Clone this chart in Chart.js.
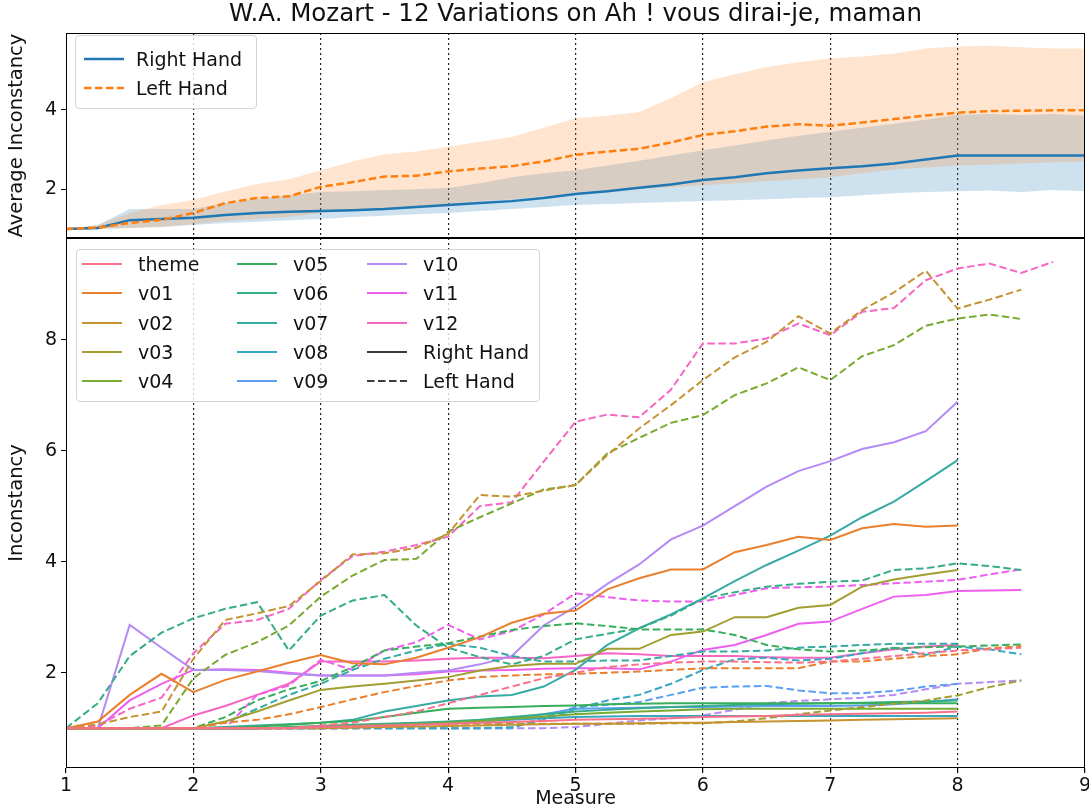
<!DOCTYPE html>
<html>
<head>
<meta charset="utf-8">
<script src="https://cdn.jsdelivr.net/npm/chart.js@4.4.0/dist/chart.umd.min.js"></script>
<style>
  body { margin: 0; background: #fff; font-family: 'DejaVu Sans', sans-serif; }
  #wrap { position: relative; width: 1089px; height: 810px; overflow: hidden; }
  #wrap canvas { position: absolute; left: 0; }
  .legend { position: absolute; border: 1px solid #d3d3d3; border-radius: 4px; background: rgba(255,255,255,0.8); }
  .item { position: absolute; font-size: 19px; color: #111; white-space: nowrap; line-height: 20px; height: 20px; }
  .item svg { position: absolute; top: 0; left: 0; }
</style>
</head>
<body>
<div id="wrap">
  <canvas id="top" width="1089" height="240" style="top:0"></canvas>
  <canvas id="bottom" width="1089" height="572" style="top:238px"></canvas>
</div>
<script>
// x positions (measure), sampled every quarter measure
const measures = [1, 1.25, 1.5, 1.75, 2, 2.25, 2.5, 2.75, 3, 3.25, 3.5, 3.75, 4, 4.25, 4.5, 4.75,
  5, 5.25, 5.5, 5.75, 6, 6.25, 6.5, 6.75, 7, 7.25, 7.5, 7.75, 8, 8.25, 8.5, 8.75, 9];

// top panel: average over variations, with spread band
const avgRight = [1.0, 1.02, 1.22, 1.25, 1.28, 1.35, 1.4, 1.43, 1.45, 1.47, 1.5, 1.55, 1.6, 1.65, 1.7, 1.78,
  1.88, 1.95, 2.04, 2.12, 2.23, 2.3, 2.4, 2.47, 2.53, 2.58, 2.65, 2.75, 2.85, 2.85, 2.85, 2.85, 2.85];
const avgLeft = [1.0, 1.03, 1.15, 1.23, 1.4, 1.65, 1.78, 1.82, 2.06, 2.18, 2.32, 2.34, 2.45, 2.52, 2.58, 2.7,
  2.87, 2.95, 3.02, 3.18, 3.37, 3.46, 3.58, 3.64, 3.6, 3.68, 3.77, 3.86, 3.93, 3.97, 3.98, 3.99, 3.99];
const rightUpper = [1.0, 1.1, 1.5, 1.5, 1.5, 1.65, 1.75, 1.85, 1.93, 1.95, 1.98, 2.0, 2.03, 2.15, 2.3, 2.4,
  2.48, 2.6, 2.72, 2.85, 2.98, 3.1, 3.23, 3.35, 3.45, 3.55, 3.65, 3.75, 3.88, 3.9, 3.87, 3.9, 3.85];
const rightLower = [1.0, 1.0, 1.02, 1.05, 1.1, 1.15, 1.18, 1.22, 1.25, 1.3, 1.33, 1.37, 1.4, 1.45, 1.5, 1.55,
  1.6, 1.63, 1.65, 1.68, 1.7, 1.72, 1.75, 1.78, 1.8, 1.85, 1.9, 1.93, 1.95, 1.97, 1.93, 1.98, 1.95];
const leftUpper = [1.0, 1.1, 1.4, 1.6, 1.73, 1.95, 2.13, 2.25, 2.48, 2.7, 2.88, 2.95, 3.07, 3.2, 3.32, 3.55,
  3.79, 3.85, 3.95, 4.3, 4.7, 4.9, 5.08, 5.2, 5.3, 5.35, 5.42, 5.55, 5.6, 5.62, 5.58, 5.55, 5.55];
const leftLower = [1.0, 1.0, 1.02, 1.05, 1.12, 1.2, 1.25, 1.3, 1.4, 1.45, 1.5, 1.55, 1.6, 1.7, 1.75, 1.82,
  1.9, 1.95, 2.0, 2.05, 2.1, 2.15, 2.2, 2.25, 2.3, 2.4, 2.5, 2.55, 2.6, 2.62, 2.65, 2.68, 2.7];

// bottom panel: one line per variation and hand
const pieces = ['theme', 'v01', 'v02', 'v03', 'v04', 'v05', 'v06', 'v07', 'v08', 'v09', 'v10', 'v11', 'v12'];
const pieceColors = ['#f77189', '#e9802e', '#c59331', '#a39e31', '#79aa31', '#36ae5b', '#35ad8a',
  '#37aaa4', '#39a6c0', '#5b9ff3', '#b48af4', '#ee5ff0', '#f666c4'];

const rightHand = [
  [1,1,1,1,1,1,1,1,1.02,1.03,1.05,1.06,1.08,1.1,1.11,1.13,1.15,1.16,1.17,1.18,1.2,1.21,1.22,1.24,1.25,1.26,1.27,1.28,1.3,null,null,null,null],
  [1.0,1.12,1.6,1.98,1.65,1.87,2.02,2.18,2.32,2.17,2.15,2.27,2.45,2.64,2.9,3.06,3.12,3.5,3.7,3.86,3.86,4.17,4.3,4.45,4.39,4.6,4.68,4.63,4.65,null,null,null,null],
  [1,1,1,1,1,1,1,1,1,1.01,1.02,1.03,1.04,1.05,1.06,1.07,1.08,1.08,1.09,1.1,1.1,1.11,1.12,1.13,1.14,1.15,1.16,1.17,1.18,null,null,null,null],
  [1,1,1,1,1,1.12,1.3,1.5,1.69,1.75,1.8,1.86,1.92,2.04,2.12,2.16,2.16,2.43,2.43,2.68,2.74,3.0,3.0,3.17,3.22,3.55,3.68,3.77,3.85,null,null,null,null],
  [1,1,1,1,1,1,1,1.01,1.02,1.03,1.05,1.07,1.1,1.13,1.17,1.21,1.25,1.28,1.3,1.32,1.34,1.35,1.35,1.35,1.35,1.35,1.35,1.35,1.35,null,null,null,null],
  [1,1,1,1,1,1,1.03,1.06,1.1,1.13,1.2,1.28,1.35,1.37,1.38,1.4,1.41,1.43,1.44,1.45,1.45,1.45,1.45,1.45,1.45,1.45,1.45,1.45,1.45,null,null,null,null],
  [1,1,1,1,1,1,1,1.02,1.04,1.06,1.08,1.1,1.12,1.15,1.2,1.25,1.3,1.33,1.36,1.38,1.4,1.42,1.43,1.44,1.45,1.46,1.47,1.48,1.5,null,null,null,null],
  [1,1,1,1,1,1.02,1.05,1.07,1.1,1.15,1.3,1.4,1.5,1.57,1.6,1.75,2.05,2.5,2.8,3.05,3.34,3.65,3.94,4.2,4.47,4.8,5.08,5.45,5.83,null,null,null,null],
  [1,1,1,1,1,1,1,1.01,1.02,1.03,1.05,1.07,1.1,1.12,1.15,1.18,1.2,1.21,1.22,1.22,1.22,1.22,1.22,1.22,1.22,1.22,1.22,1.22,1.22,null,null,null,null],
  [1,1,1,1,1,1,1,1,1,1.02,1.05,1.07,1.1,1.14,1.18,1.25,1.35,1.36,1.37,1.38,1.38,1.39,1.4,1.4,1.4,1.41,1.43,1.47,1.52,null,null,null,null],
  [1,1,2.86,2.45,2.05,2.05,2.03,1.98,1.95,1.95,1.95,2.0,2.04,2.15,2.3,2.85,3.19,3.6,3.95,4.4,4.65,5.0,5.35,5.63,5.81,6.03,6.15,6.35,6.88,null,null,null,null],
  [1,1,1.5,1.8,2.05,2.06,2.05,2.0,1.95,1.95,1.95,1.97,2.02,2.04,2.05,2.07,2.08,2.08,2.06,2.2,2.41,2.5,2.68,2.88,2.92,3.15,3.37,3.4,3.47,3.48,3.49,null,null],
  [1,1,1,1,1.23,1.4,1.6,1.8,2.2,2.2,2.2,2.22,2.25,2.27,2.27,2.26,2.3,2.35,2.33,2.3,2.3,2.3,2.28,2.27,2.27,2.35,2.42,2.47,2.5,null,null,null,null]
];

const leftHand = [
  [1,1,1,1,1,1,1,1,1.05,1.1,1.2,1.3,1.45,1.6,1.75,1.9,2.0,2.1,2.15,2.18,2.2,2.2,2.19,2.18,2.2,2.25,2.3,2.35,2.4,2.42,2.45,null,null],
  [1,1,1,1,1,1.1,1.15,1.25,1.38,1.52,1.65,1.76,1.86,1.92,1.95,1.97,1.98,2.0,2.02,2.05,2.08,2.08,2.08,2.08,2.2,2.2,2.25,2.3,2.33,2.44,2.48,null,null],
  [1.0,1.07,1.2,1.3,2.25,2.95,3.07,3.2,3.65,4.13,4.15,4.25,4.5,5.2,5.17,5.28,5.38,5.92,6.4,6.82,7.27,7.68,7.96,8.42,8.11,8.53,8.85,9.24,8.56,8.72,8.9,null,null],
  [1,1,1,1,1,1,1,1,1.03,1.04,1.06,1.07,1.08,1.08,1.08,1.08,1.08,1.08,1.08,1.09,1.09,1.12,1.18,1.25,1.32,1.38,1.44,1.5,1.59,1.74,1.86,null,null],
  [1,1,1,1.05,1.9,2.32,2.55,2.85,3.37,3.75,4.03,4.05,4.54,4.8,5.05,5.3,5.38,5.95,6.23,6.5,6.64,7.0,7.21,7.5,7.27,7.7,7.9,8.25,8.38,8.45,8.37,null,null],
  [1,1,1,1,1,1.2,1.5,1.7,1.85,2.1,2.4,2.47,2.53,2.65,2.77,2.84,2.89,2.84,2.78,2.78,2.78,2.68,2.5,2.42,2.38,2.4,2.44,2.46,2.47,2.49,2.51,null,null],
  [1,1.45,2.3,2.72,2.98,3.15,3.27,2.4,3.03,3.3,3.4,2.85,2.45,2.28,2.15,2.3,2.6,2.7,2.8,3.03,3.33,3.45,3.55,3.6,3.64,3.66,3.85,3.88,3.97,3.92,3.85,null,null],
  [1,1,1,1,1,1.1,1.35,1.6,1.8,2.05,2.25,2.4,2.52,2.45,2.3,2.2,2.2,2.22,2.22,2.3,2.38,2.38,2.4,2.45,2.47,2.5,2.52,2.52,2.52,null,null,null,null],
  [1,1,1,1,1,1,1,1,1,1,1,1,1,1,1.02,1.15,1.35,1.5,1.6,1.8,2.05,2.24,2.27,2.22,2.25,2.35,2.45,2.32,2.47,2.42,2.33,null,null],
  [1,1,1,1,1,1,1,1,1,1,1,1,1,1,1,1.2,1.38,1.42,1.47,1.6,1.73,1.75,1.76,1.68,1.63,1.63,1.67,1.75,1.8,null,null,null,null],
  [1,1,1,1,1,1,1,1,1,1,1,1,1,1,1,1,1.02,1.08,1.14,1.18,1.23,1.33,1.45,1.49,1.52,1.55,1.6,1.7,1.8,1.83,1.86,null,null],
  [1,1,1,1,1,1,1.6,1.77,2.23,2.05,2.4,2.55,2.86,2.6,2.75,3.05,3.43,3.36,3.3,3.28,3.28,3.4,3.52,3.54,3.55,3.58,3.61,3.64,3.67,3.77,3.86,null,null],
  [1,1.05,1.35,1.55,2.35,2.88,2.95,3.15,3.67,4.1,4.18,4.3,4.45,5.0,5.07,5.8,6.52,6.65,6.6,7.1,7.93,7.93,8.02,8.29,8.08,8.5,8.57,9.07,9.28,9.37,9.2,9.4,null]
];

const topTicks = [2, 4];
const bottomTicks = [2, 4, 6, 8];
const xTicks = [1, 2, 3, 4, 5, 6, 7, 8, 9];

const FONT = "'DejaVu Sans', sans-serif";
const DASH = [7.5, 3.5];

function points(values) {
  return measures.map((m, i) => ({ x: m, y: values[i] })).filter(p => p.y !== null);
}

// frame around the plot area + optional title centred over it
const framePlugin = {
  id: 'frame',
  afterDraw(chart, args, opts) {
    const { ctx, chartArea: a } = chart;
    ctx.save();
    ctx.strokeStyle = '#000';
    ctx.lineWidth = 1;
    ctx.strokeRect(a.left + 0.5, a.top + 0.5, a.right - a.left - 1, a.bottom - a.top - 1);
    if (opts.title) {
      ctx.fillStyle = '#111';
      ctx.font = '24.5px ' + FONT;
      ctx.textAlign = 'center';
      ctx.textBaseline = 'middle';
      ctx.fillText(opts.title, (a.left + a.right) / 2, 15);
    }
    ctx.restore();
  }
};

function xScale(showLabels) {
  return {
    type: 'linear',
    min: 1,
    max: 9,
    afterBuildTicks: s => { s.ticks = xTicks.map(v => ({ value: v })); },
    afterFit: s => { s.height = showLabels ? 42 : 0; s.paddingLeft = 0; s.paddingRight = 0; },
    grid: {
      color: c => (c.tick && c.tick.value > 1 && c.tick.value < 9) ? '#222' : 'rgba(0,0,0,0)',
      lineWidth: 1.2,
      drawTicks: showLabels,
      tickLength: 5,
      tickColor: '#000',
      tickBorderDash: []
    },
    border: { display: false, dash: [2, 3] },
    ticks: { display: showLabels, color: '#111', font: { family: FONT, size: 19 }, padding: 2, maxRotation: 0 },
    title: showLabels ? { display: true, text: 'Measure', color: '#111', font: { family: FONT, size: 19 }, padding: { top: 0, bottom: 0 } } : { display: false }
  };
}

function yScale(min, max, ticks, label) {
  return {
    min: min,
    max: max,
    afterBuildTicks: s => { s.ticks = ticks.map(v => ({ value: v })); },
    afterFit: s => { s.width = 66; s.paddingTop = 0; s.paddingBottom = 0; },
    grid: { drawOnChartArea: false, drawTicks: true, tickLength: 5, tickColor: '#000' },
    border: { display: false },
    ticks: { color: '#111', font: { family: FONT, size: 19 }, padding: 4 },
    title: { display: true, text: label, color: '#111', font: { family: FONT, size: 19.5 }, padding: { top: 5, bottom: 0 } }
  };
}

const common = {
  responsive: false,
  animation: false,
  devicePixelRatio: 1,
  elements: { point: { radius: 0 }, line: { tension: 0 } },
  plugins: { legend: { display: false }, tooltip: { enabled: false } }
};

new Chart(document.getElementById('top'), {
  type: 'line',
  data: {
    datasets: [
      { data: points(rightLower), borderWidth: 0, fill: false, order: 3 },
      { data: points(rightUpper), borderWidth: 0, fill: '-1', backgroundColor: 'rgba(31,119,180,0.22)', order: 3 },
      { data: points(leftLower), borderWidth: 0, fill: false, order: 2 },
      { data: points(leftUpper), borderWidth: 0, fill: '-1', backgroundColor: 'rgba(255,127,14,0.2)', order: 2 },
      { label: 'Right Hand', data: points(avgRight), borderColor: '#1f77b4', borderWidth: 2.5, fill: false, order: 1 },
      { label: 'Left Hand', data: points(avgLeft), borderColor: '#ff7f0e', borderWidth: 2.5, borderDash: DASH, fill: false, order: 0 }
    ]
  },
  options: {
    ...common,
    layout: { autoPadding: false, padding: { top: 33, right: 4, bottom: 2, left: 0 } },
    scales: { x: xScale(false), y: yScale(0.77, 5.94, topTicks, 'Average Inconstancy') },
    plugins: { ...common.plugins, frame: { title: 'W.A. Mozart - 12 Variations on Ah ! vous dirai-je, maman' } }
  },
  plugins: [framePlugin]
});

const bottomSets = [];
pieces.forEach((name, i) => {
  bottomSets.push({ label: name, data: points(rightHand[i]), borderColor: pieceColors[i], borderWidth: 2, fill: false });
  bottomSets.push({ label: name, data: points(leftHand[i]), borderColor: pieceColors[i], borderWidth: 2, borderDash: DASH, fill: false });
});

new Chart(document.getElementById('bottom'), {
  type: 'line',
  data: { datasets: bottomSets },
  options: {
    ...common,
    layout: { autoPadding: false, padding: { top: 0, right: 4, bottom: 0, left: 0 } },
    scales: { x: xScale(true), y: yScale(0.283, 9.83, bottomTicks, 'Inconstancy') },
    plugins: { ...common.plugins, frame: {} }
  },
  plugins: [framePlugin]
});

// legends (matplotlib style boxes inside the axes)
function addLegend(box, items) {
  const div = document.createElement('div');
  div.className = 'legend';
  Object.assign(div.style, { left: box.x + 'px', top: box.y + 'px', width: box.w + 'px', height: box.h + 'px' });
  document.getElementById('wrap').appendChild(div);
  items.forEach(it => {
    const el = document.createElement('div');
    el.className = 'item';
    el.style.left = (it.x - box.x - 1) + 'px';
    el.style.top = (it.y - box.y - 11) + 'px';
    const dash = it.dashed ? 'stroke-dasharray="7.5,3.5"' : '';
    el.innerHTML = '<svg width="42" height="20"><line x1="0" y1="10" x2="40" y2="10" stroke="' + it.color +
      '" stroke-width="' + it.width + '" ' + dash + '/></svg><span style="position:absolute;left:' + it.tx + 'px;top:0">' +
      it.label + '</span>';
    div.appendChild(el);
  });
}

addLegend({ x: 75, y: 35, w: 180, h: 72 }, [
  { label: 'Right Hand', color: '#1f77b4', width: 2.5, dashed: false, x: 84, y: 59, tx: 52 },
  { label: 'Left Hand', color: '#ff7f0e', width: 2.5, dashed: true, x: 84, y: 88, tx: 52 }
]);

const legendLabels = pieces.concat(['Right Hand', 'Left Hand']);
const colX = [82, 237, 367];
const rowY = [264, 293.3, 322.7, 352, 381.3];
addLegend({ x: 76, y: 249, w: 462, h: 151 }, legendLabels.map((lab, k) => ({
  label: lab,
  color: k < pieces.length ? pieceColors[k] : '#3c3c3c',
  width: 2.2,
  dashed: lab === 'Left Hand',
  x: colX[Math.floor(k / 5)],
  y: rowY[k % 5],
  tx: 56
})));
</script>
</body>
</html>
